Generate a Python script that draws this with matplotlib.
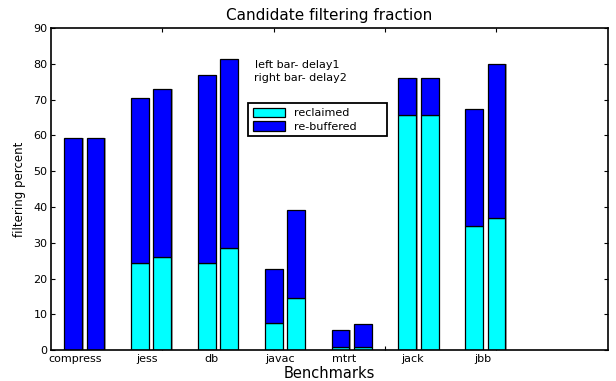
import matplotlib
matplotlib.use("Agg")
import matplotlib.pyplot as plt

plt.rcParams['font.family'] = ['DejaVu Sans']

benchmarks = ['compress', 'jess', 'db', 'javac', 'mtrt', 'jack', 'jbb']
label_pos = [1.08, 4.32, 7.21, 10.28, 13.16, 16.25, 19.38]

# left bar = delay1, right bar = delay2
reclaimed_d1 = [0.0, 24.4, 24.3, 7.6, 0.8, 65.7, 34.8]
total_d1 = [59.4, 70.5, 76.8, 22.6, 5.7, 75.9, 67.4]
reclaimed_d2 = [0.0, 26.0, 28.7, 14.7, 0.8, 65.7, 37.0]
total_d2 = [59.4, 72.9, 81.2, 39.1, 7.3, 75.9, 79.9]

rebuf_d1 = [t - r for t, r in zip(total_d1, reclaimed_d1)]
rebuf_d2 = [t - r for t, r in zip(total_d2, reclaimed_d2)]

x1 = [1 + 3 * i for i in range(len(benchmarks))]
x2 = [x + 1 for x in x1]

fig = plt.figure(figsize=(6.16, 3.81), dpi=100)
ax = fig.add_axes([0.0828, 0.0806, 0.904, 0.846])

w = 0.8
# faint grey print shadow on the right of each bar
ax.bar([x + 0.06 for x in x1 + x2], total_d1 + total_d2, width=w,
       color='#a0a0a0', linewidth=0, zorder=0.9)
kw = dict(width=w, edgecolor='black', linewidth=0.9)
ax.bar(x1, reclaimed_d1, color='cyan', label='reclaimed', **kw)
ax.bar(x1, rebuf_d1, bottom=reclaimed_d1, color='blue', label='re-buffered', **kw)
ax.bar(x2, reclaimed_d2, color='cyan', **kw)
ax.bar(x2, rebuf_d2, bottom=reclaimed_d2, color='blue', **kw)

ax.set_xlim(0, 25)
ax.set_ylim(0, 90)
ax.set_yticks(range(0, 91, 10))
ax.set_xticks([5, 10, 15, 20])
ax.set_xticklabels([])
ax.set_axisbelow(True)
ax.tick_params(direction='in', length=3, width=0.8, top=True, right=True,
               labelsize=8, pad=2.5)
for s in ax.spines.values():
    s.set_linewidth(1.2)

for p, name in zip(label_pos, benchmarks):
    ax.text(p, -2.5, name, ha='center', va='center', fontsize=8, clip_on=False)

ax.text(9.18, 79.6, 'left bar- delay1', fontsize=8, va='center')
ax.text(9.13, 76.1, 'right bar- delay2', fontsize=8, va='center')

leg = ax.legend(loc='upper left', bbox_to_anchor=(0.354, 0.767, 0.249, 0.0),
                mode='expand', fontsize=8, fancybox=False, framealpha=1,
                edgecolor='black', handlelength=2.9, handleheight=1.0,
                handletextpad=0.8, labelspacing=0.25, borderpad=0.4,
                borderaxespad=0)
leg.get_frame().set_linewidth(1.3)

ax.set_title('Candidate filtering fraction', fontsize=11, pad=6)
ax.set_xlabel('Benchmarks', fontsize=10.5)
ax.xaxis.set_label_coords(0.5, -0.05)
ax.set_ylabel('filtering percent', fontsize=8.5, labelpad=5)

fig.savefig('out.png', dpi=100)
